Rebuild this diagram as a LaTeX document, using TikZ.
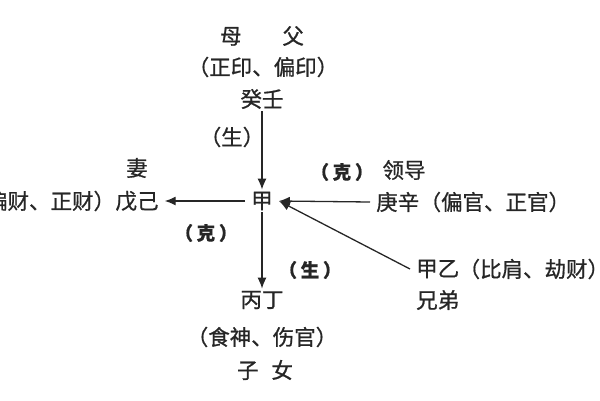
\documentclass[tikz,border=0pt]{standalone}
\usepackage{fontspec}
\setmainfont[FakeBold=0.8]{Noto Sans CJK SC}
\usetikzlibrary{arrows.meta}
\newcommand{\kelabel}[1]{（\hspace{0.2em}#1\hspace{0.2em}）}
\tikzset{
	gan/.style={inner xsep=6pt, inner ysep=2pt, font=\fontsize{21.5}{24}\selectfont, text=black!85},
	note/.style={inner sep=0pt, font=\fontsize{21.5}{24}\selectfont, text=black!85},
	ke/.style={inner sep=0pt, font=\fontsize{18.5}{20}\selectfont\bfseries, text=black!85},
	rel/.style={draw=black!85, line width=1.3pt, -{Latex[length=11pt,width=9pt]}}
}

\begin{document}
\begin{tikzpicture}[x=1pt, y=-1pt]
					\useasboundingbox (0,0) rectangle (600,400);

					\node[gan] (jia) at (262,201) {甲};
					\node[gan] (guiren) at (262,99) {癸壬};
					\node[gan] (bingding) at (262,300) {丙丁};
					\node[gan] (wuji) at (137,201) {戊己};
					\node[gan, anchor=west] (gengxin) at (370,202) {庚辛};
					\node[gan, anchor=west] (jiayi) at (410,269) {甲乙};

					\node[note] (mufu) at (262,36) {母\hspace{1.9em}父};
					\node[note] (yin) at (263,67) {（正印、偏印）};
					\node[note] (qi) at (137,168) {妻};
					\node[note, anchor=east] (cai) at ([xshift=6pt]wuji.west) {（偏财、正财）};
					\node[note, anchor=west] (guan) at ([xshift=-6pt]gengxin.east) {（偏官、正官）};
					\node[note] (lingdao) at (404,170) {领导};
					\node[note, anchor=west] (jie) at ([xshift=-7pt]jiayi.east) {（比肩、劫财）};
					\node[note, anchor=west] (xiongdi) at (416,300) {兄弟};
					\node[note] (shishang) at (262,337) {（食神、伤官）};
					\node[note] (zinv) at (265,370) {子\hspace{0.6em}女};
					\node[note] (shengup) at (232,137) {（生）};

					\node[ke] (sheng) at (310,270) {\kelabel{生}};
					\node[ke] (keleft) at (206,233) {\kelabel{克}};
					\node[ke] (keright) at (342,172) {\kelabel{克}};

					\draw[rel] (guiren) -- (jia);
					\draw[rel] (jia) -- (bingding);
					\draw[rel] (jia) -- (wuji);
					\draw[rel] (gengxin.west) -- (jia.east);
					\draw[rel] (jiayi.west) -- (jia.east);

				\end{tikzpicture}
\end{document}
